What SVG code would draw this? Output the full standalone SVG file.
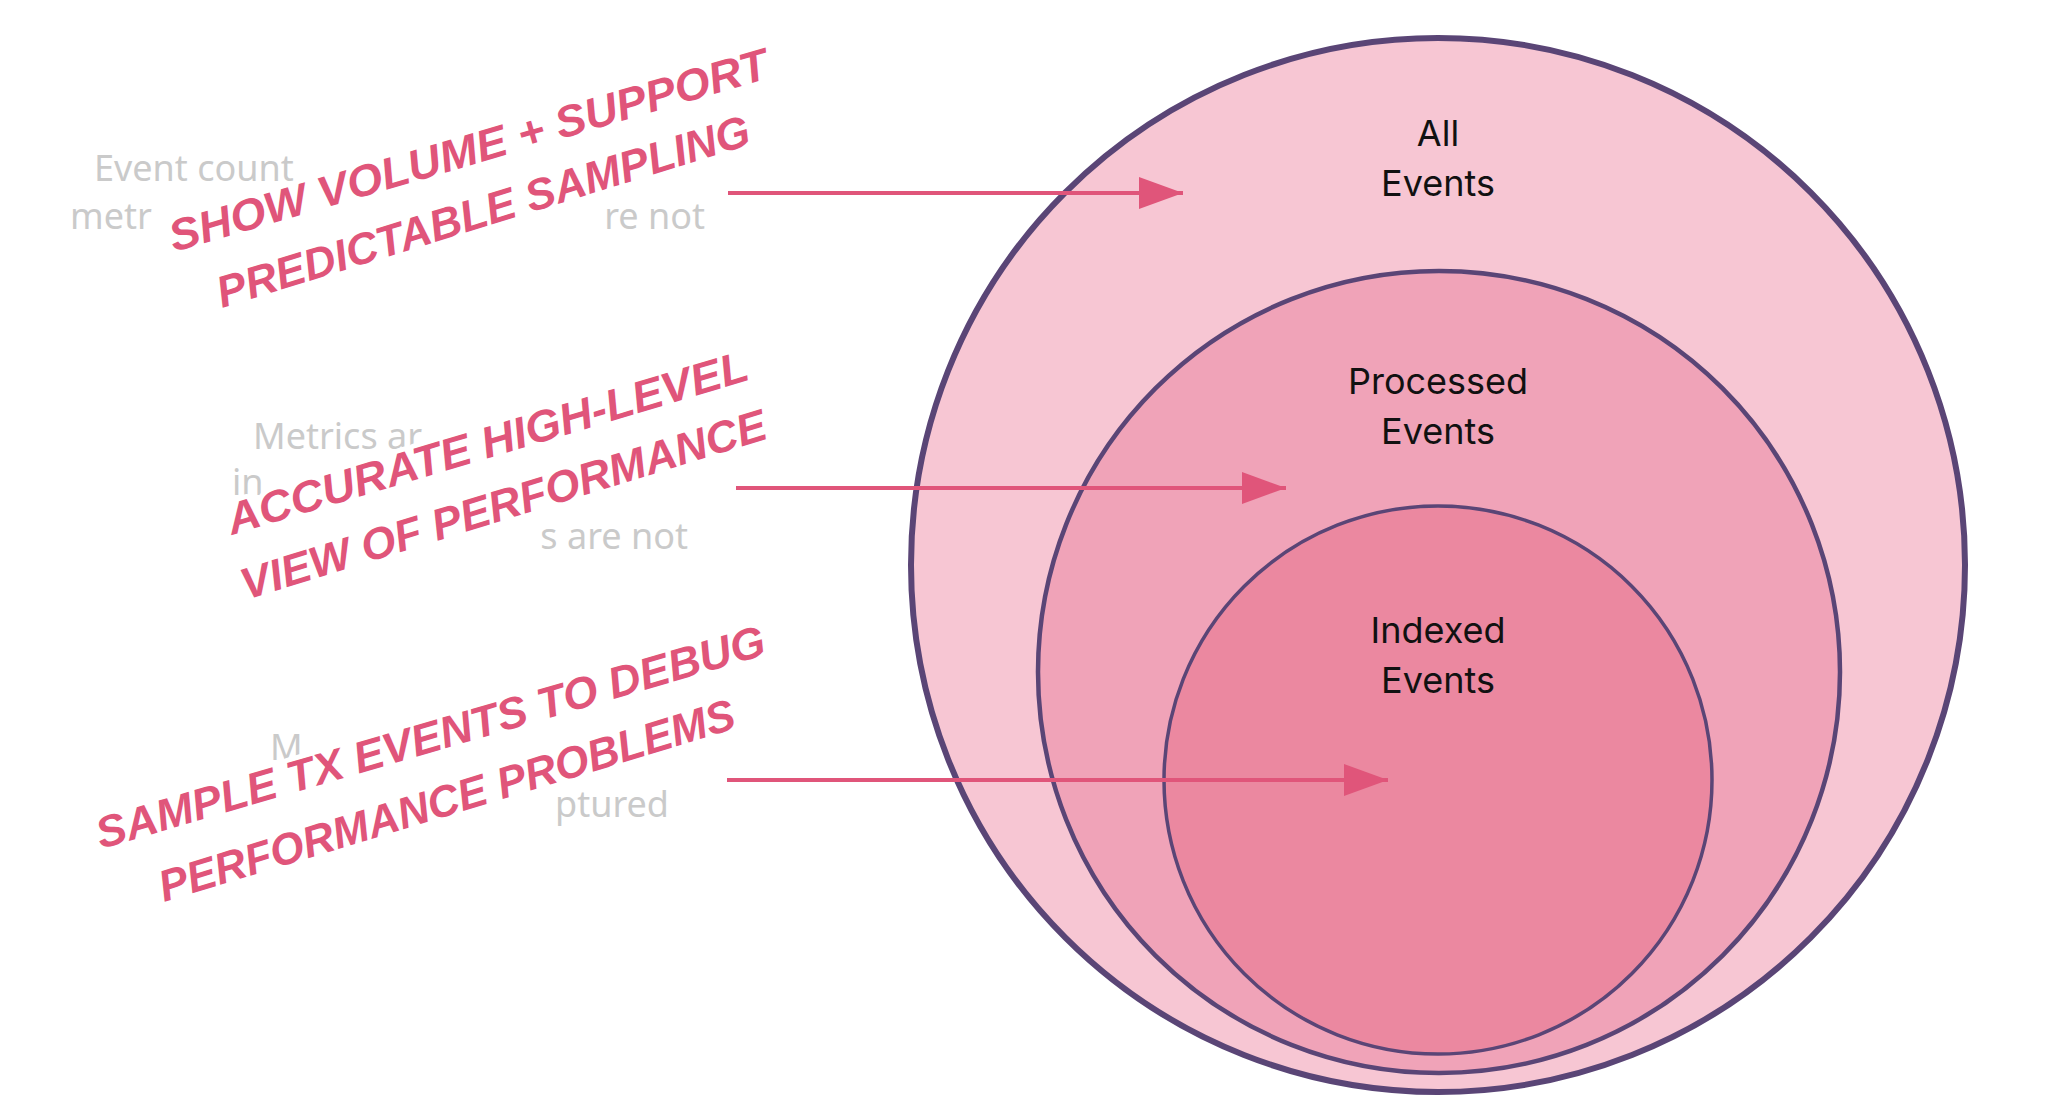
<svg xmlns="http://www.w3.org/2000/svg" width="2048" height="1113" viewBox="0 0 2048 1113">
<defs>
<marker id="ah" markerWidth="44" markerHeight="32" refX="44" refY="16" orient="auto" markerUnits="userSpaceOnUse" viewBox="0 0 44 32"><path d="M0,0 L44,16 L0,32 Z" fill="#e0557a"/></marker>
<style>
.lbl{font-family:Inter,"Noto Sans",sans-serif;font-size:36px;fill:#111;text-anchor:middle}
.grey{font-family:"Noto Sans","Liberation Sans",sans-serif;font-size:36px;fill:#cacaca}
.hand{font-family:"Liberation Sans",sans-serif;font-weight:bold;font-style:italic;font-size:44px;fill:#e0557a;stroke:#fff;stroke-width:10px;paint-order:stroke;stroke-linejoin:round;text-transform:uppercase}
.conn{stroke:#e0557a;stroke-width:4;fill:none}
</style>
</defs>
<rect width="2048" height="1113" fill="#fff"/>
<g id="grey-notes">
<text class="grey" x="94" y="181">Event count</text>
<text class="grey" x="70" y="229">metr</text>
<text class="grey" x="705" y="229" text-anchor="end">re not</text>
<text class="grey" x="253" y="449">Metrics ar</text>
<text class="grey" x="232" y="495">in</text>
<text class="grey" x="688" y="549" text-anchor="end">s are not</text>
<text class="grey" x="270" y="760">M</text>
<text class="grey" x="669" y="817" text-anchor="end">ptured</text>
</g>
<g id="all-events"><circle cx="1438" cy="565" r="527" fill="#f7c6d3" stroke="#5a4576" stroke-width="6"/>
<text class="lbl" x="1438" y="146">All</text><text class="lbl" x="1438" y="196">Events</text></g>
<g id="processed-events"><circle cx="1439" cy="672" r="401" fill="#f0a3b8" stroke="#5a4576" stroke-width="4.5"/>
<text class="lbl" x="1438" y="394">Processed</text><text class="lbl" x="1438" y="444">Events</text></g>
<g id="indexed-events"><circle cx="1438" cy="780" r="274" fill="#eb88a0" stroke="#5a4576" stroke-width="3.5"/>
<text class="lbl" x="1438" y="643">Indexed</text><text class="lbl" x="1438" y="693">Events</text></g>
<g id="connectors">
<line class="conn" x1="728" y1="193" x2="1183" y2="193" marker-end="url(#ah)"/>
<line class="conn" x1="736" y1="488" x2="1286" y2="488" marker-end="url(#ah)"/>
<line class="conn" x1="727" y1="780" x2="1388" y2="780" marker-end="url(#ah)"/>
</g>
<g id="notes">
<text class="hand" transform="translate(174,252) rotate(-16.3)" textLength="622" lengthAdjust="spacingAndGlyphs">Show volume + support</text>
<text class="hand" transform="translate(222,308) rotate(-17.2)" textLength="556" lengthAdjust="spacingAndGlyphs">Predictable sampling</text>
<text class="hand" transform="translate(232,535) rotate(-16.7)" textLength="542" lengthAdjust="spacingAndGlyphs">Accurate high-level</text>
<text class="hand" transform="translate(246,600) rotate(-17.2)" textLength="548" lengthAdjust="spacingAndGlyphs">View of performance</text>
<text class="hand" transform="translate(101,849) rotate(-16.3)" textLength="695" lengthAdjust="spacingAndGlyphs">Sample tx events to debug</text>
<text class="hand" transform="translate(164,902) rotate(-16.9)" textLength="600" lengthAdjust="spacingAndGlyphs">Performance problems</text>
</g>
</svg>
